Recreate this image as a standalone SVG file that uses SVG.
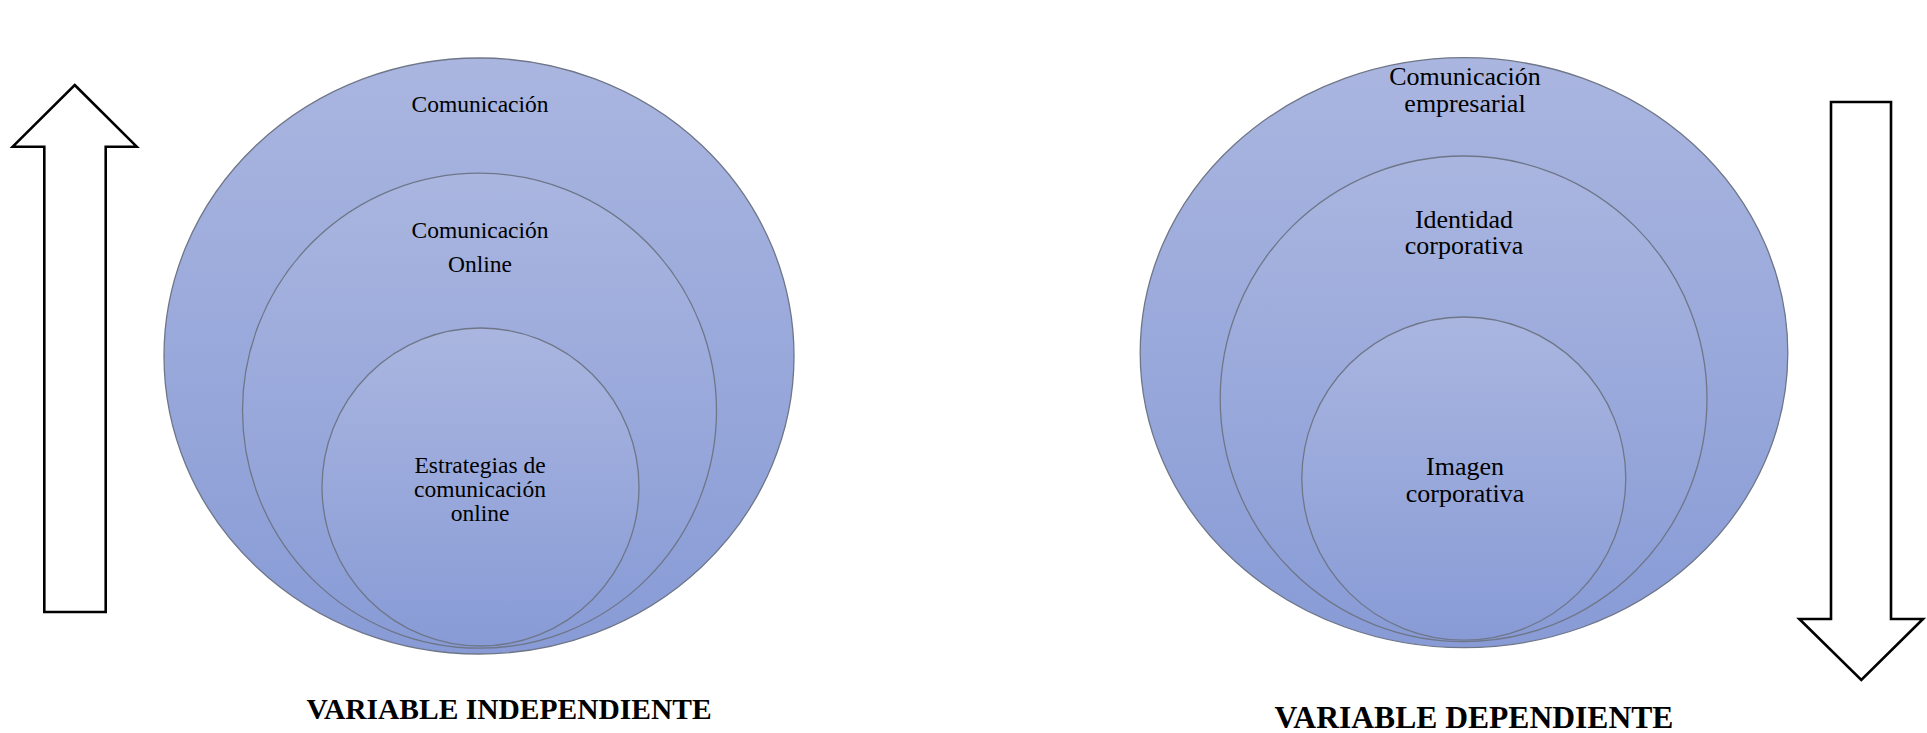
<svg xmlns="http://www.w3.org/2000/svg" width="1927" height="733" viewBox="0 0 1927 733">
  <defs>
    <linearGradient id="g" x1="0" y1="0" x2="0" y2="1">
      <stop offset="0" stop-color="#aab6e0"/>
      <stop offset="1" stop-color="#889bd6"/>
    </linearGradient>
    <style>
      .c { fill: url(#g); stroke: #6e7688; stroke-width: 1.3; }
      .a { fill: #ffffff; stroke: #000000; stroke-width: 2.6; stroke-linejoin: miter; }
      .t { font-family: "Liberation Serif", "Times New Roman", serif; fill: #000000; text-anchor: middle; }
      .s1 { font-size: 23.5px; }
      .s2 { font-size: 26px; }
      .b { font-size: 29.5px; font-weight: bold; }
      .b2 { font-size: 31.6px; font-weight: bold; }
    </style>
  </defs>
  <rect width="1927" height="733" fill="#ffffff"/>

  <g id="arrow-up">
    <polygon class="a" points="74.7,85 136.7,146.7 105.7,146.7 105.7,612 44.3,612 44.3,146.7 12.7,146.7"/>
  </g>

  <g id="comunicacion">
    <ellipse class="c" cx="479" cy="356" rx="315" ry="298"/>
    <text class="t s1" x="480" y="112">Comunicación</text>
  </g>
  <g id="comunicacion-online">
    <ellipse class="c" cx="479.5" cy="410.7" rx="237" ry="237.5"/>
    <text class="t s1" x="480" y="238">Comunicación</text>
    <text class="t s1" x="480" y="272">Online</text>
  </g>
  <g id="estrategias">
    <ellipse class="c" cx="480.5" cy="487" rx="158.5" ry="159"/>
    <text class="t s1" x="480" y="473">Estrategias de</text>
    <text class="t s1" x="480" y="496.5">comunicación</text>
    <text class="t s1" x="480" y="521">online</text>
  </g>
  <g id="label-independiente">
    <text class="t b" x="509" y="718.5">VARIABLE INDEPENDIENTE</text>
  </g>

  <g id="comunicacion-empresarial">
    <ellipse class="c" cx="1464" cy="352.7" rx="323.8" ry="295"/>
    <text class="t s2" x="1465" y="85">Comunicación</text>
    <text class="t s2" x="1465" y="111.7">empresarial</text>
  </g>
  <g id="identidad">
    <ellipse class="c" cx="1463.6" cy="398.8" rx="243.4" ry="242.8"/>
    <text class="t s2" x="1464" y="227.7">Identidad</text>
    <text class="t s2" x="1464" y="253.5">corporativa</text>
  </g>
  <g id="imagen">
    <ellipse class="c" cx="1463.8" cy="478.6" rx="162" ry="161.6"/>
    <text class="t s2" x="1465" y="475">Imagen</text>
    <text class="t s2" x="1465" y="501.7">corporativa</text>
  </g>
  <g id="label-dependiente">
    <text class="t b2" x="1474" y="728">VARIABLE DEPENDIENTE</text>
  </g>

  <g id="arrow-down">
    <polygon class="a" points="1831,102 1891,102 1891,619 1923,619 1861.3,680 1799.3,619 1831,619"/>
  </g>
</svg>
